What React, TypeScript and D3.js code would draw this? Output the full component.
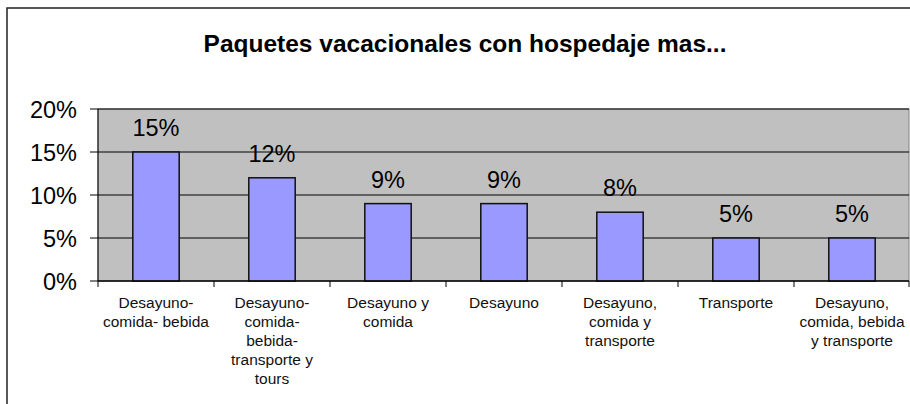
import React from 'react';
import * as d3 from 'd3';

// chart data
const categories = [
  'Desayuno-\ncomida- bebida',
  'Desayuno-\ncomida-\nbebida-\ntransporte y\ntours',
  'Desayuno y\ncomida',
  'Desayuno',
  'Desayuno,\ncomida y\ntransporte',
  'Transporte',
  'Desayuno,\ncomida, bebida\ny transporte',
];
const values = [0.15, 0.12, 0.09, 0.09, 0.08, 0.05, 0.05];
const yTicks = [0, 0.05, 0.1, 0.15, 0.2];
const title = 'Paquetes vacacionales con hospedaje mas...';

const W = 910;
const H = 404;
const FONT = 'Arial, "Liberation Sans", Helvetica, sans-serif';

const App = () => {
  const plot = { left: 98, right: 909, top: 109, bottom: 281 };

  const x = d3.scaleBand<string>()
    .domain(categories)
    .range([plot.left, 910])
    .padding(0);

  const y = d3.scaleLinear()
    .domain([0, 0.2])
    .range([plot.bottom, plot.top]);

  const fmt = d3.format('.0%');
  const barW = x.bandwidth() * 0.4;

  return (
    <svg
      width={W}
      height={H}
      style={{ position: 'absolute', left: 0, top: 0, background: '#fff' }}
    >
      {/* outer chart border, runs off the right and bottom */}
      <rect x={7} y={8} width={W + 10} height={H + 10} fill="#fff" stroke="#222" strokeWidth={1.5} />

      <text x={465} y={52} textAnchor="middle" fontFamily={FONT} fontWeight="bold" fontSize={24.5} fill="#000">
        {title}
      </text>

      {/* plot area */}
      <rect
        x={plot.left}
        y={plot.top}
        width={plot.right - plot.left}
        height={plot.bottom - plot.top}
        fill="#c0c0c0"
        stroke="#808080"
        strokeWidth={1}
      />

      {/* gridlines */}
      {yTicks.map(t => (
        <line key={'g' + t} x1={plot.left} x2={plot.right} y1={y(t)} y2={y(t)} stroke="#000" strokeWidth={1} />
      ))}

      {/* bars */}
      {categories.map((c, i) => (
        <rect
          key={'b' + i}
          x={(x(c) as number) + (x.bandwidth() - barW) / 2}
          y={y(values[i])}
          width={barW}
          height={y(0) - y(values[i])}
          fill="#9999ff"
          stroke="#111"
          strokeWidth={1.5}
        />
      ))}

      {/* value labels */}
      {categories.map((c, i) => (
        <text
          key={'v' + i}
          x={(x(c) as number) + x.bandwidth() / 2}
          y={y(values[i]) - 16}
          textAnchor="middle"
          fontFamily={FONT}
          fontSize={23.5}
          fill="#000"
        >
          {fmt(values[i])}
        </text>
      ))}

      {/* y axis */}
      <line x1={plot.left} x2={plot.left} y1={plot.top} y2={plot.bottom} stroke="#000" strokeWidth={1} />
      {yTicks.map(t => (
        <g key={'t' + t}>
          <line x1={plot.left - 8} x2={plot.left} y1={y(t)} y2={y(t)} stroke="#000" />
          <text x={77} y={y(t) + 9} textAnchor="end" fontFamily={FONT} fontSize={23.5} fill="#000">
            {fmt(t)}
          </text>
        </g>
      ))}

      {/* x axis */}
      <line x1={plot.left} x2={plot.right} y1={plot.bottom} y2={plot.bottom} stroke="#000" strokeWidth={1} />
      {categories.map((c, i) => (
        <line
          key={'xt' + i}
          x1={x(c) as number}
          x2={x(c) as number}
          y1={plot.bottom}
          y2={plot.bottom + 6}
          stroke="#000"
        />
      ))}
      <line x1={909} x2={909} y1={plot.bottom} y2={plot.bottom + 6} stroke="#000" />

      {/* category labels */}
      {categories.map((c, i) => (
        <text
          key={'c' + i}
          x={(x(c) as number) + x.bandwidth() / 2}
          y={308}
          textAnchor="middle"
          fontFamily={FONT}
          fontSize={15.5}
          fill="#111"
        >
          {c.split('\n').map((line, j) => (
            <tspan key={j} x={(x(c) as number) + x.bandwidth() / 2} dy={j === 0 ? 0 : 19}>
              {line}
            </tspan>
          ))}
        </text>
      ))}
    </svg>
  );
};

export default App;
